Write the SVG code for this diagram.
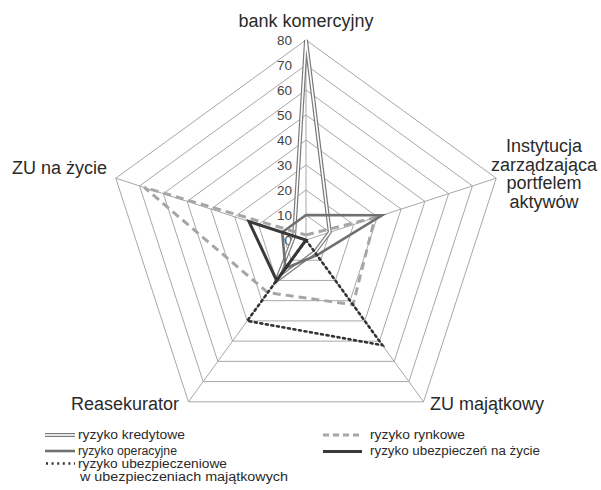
<svg xmlns="http://www.w3.org/2000/svg" width="601" height="490" viewBox="0 0 601 490">
<style>
text{font-family:"Liberation Sans",Arial,sans-serif;fill:#2a2a2a}
.ax{font-size:18px}
.tk{font-size:13.5px;fill:#444;text-anchor:end}
.lg{font-size:12.5px}
.grid{fill:none;stroke:#a8a8a8;stroke-width:1}
.s{fill:none;stroke-linejoin:miter}
.kr1{stroke:#7a7a7a;stroke-width:4}
.kr2{stroke:#fff;stroke-width:1.6}
.op{stroke:#707070;stroke-width:2.6}
.ry{stroke:#a6a6a6;stroke-width:3;stroke-dasharray:8 5}
.zy{stroke:#3a3a3a;stroke-width:3}
.um{stroke:#333;stroke-width:2.6;stroke-dasharray:2 3.6}
</style>
<rect width="601" height="490" fill="#fff"/>
<g id="grid" class="grid">
<polygon points="306,215 329.78,232.27 320.69,260.23 291.31,260.23 282.22,232.27"/>
<polygon points="306,190 353.55,224.55 335.39,280.45 276.61,280.45 258.45,224.55"/>
<polygon points="306,165 377.33,216.82 350.08,300.68 261.92,300.68 234.67,216.82"/>
<polygon points="306,140 401.11,209.10 364.78,320.90 247.22,320.90 210.89,209.10"/>
<polygon points="306,115 424.88,201.37 379.47,341.13 232.53,341.13 187.12,201.37"/>
<polygon points="306,90 448.66,193.65 394.17,361.35 217.83,361.35 163.34,193.65"/>
<polygon points="306,65 472.44,185.92 408.86,381.58 203.14,381.58 139.56,185.92"/>
<polygon points="306,40 496.21,178.20 423.56,401.80 188.44,401.80 115.79,178.20"/>
<path d="M306,240L306,40M306,240L496.21,178.20M306,240L423.56,401.80M306,240L188.44,401.80M306,240L115.79,178.20"/>
</g>
<g id="ticks">
<text class="tk" x="292" y="44.8">80</text>
<text class="tk" x="292" y="69.8">70</text>
<text class="tk" x="292" y="94.8">60</text>
<text class="tk" x="292" y="119.8">50</text>
<text class="tk" x="292" y="144.8">40</text>
<text class="tk" x="292" y="169.8">30</text>
<text class="tk" x="292" y="194.8">20</text>
<text class="tk" x="292" y="219.8">10</text>
<text class="tk" x="292" y="244.8">0</text>
</g>
<g id="axis-labels">
<text class="ax" x="306" y="27" text-anchor="middle">bank komercyjny</text>
<text class="ax" text-anchor="middle"><tspan x="544" y="152">Instytucja</tspan><tspan x="544" y="170.5">zarządzająca</tspan><tspan x="544" y="189">portfelem</tspan><tspan x="544" y="207.5">aktywów</tspan></text>
<text class="ax" x="430" y="410">ZU majątkowy</text>
<text class="ax" x="71" y="410">Reasekurator</text>
<text class="ax" x="12" y="174">ZU na życie</text>
</g>
<g id="series">
<g id="s-kredytowe">
<polygon class="s kr1" points="306,40 329.78,232.27 314.82,252.14 276.61,280.45 294.11,236.14"/>
<polygon class="s kr2" points="306,40 329.78,232.27 314.82,252.14 276.61,280.45 294.11,236.14"/>
</g>
<polygon id="s-rynkowe" class="s ry" points="306,235 374.95,217.60 353.02,304.72 267.79,292.59 144.32,187.47"/>
<polygon id="s-operacyjne" class="s op" points="306,215 382.08,215.28 317.02,255.17 285.43,268.32 282.22,232.27"/>
<polygon id="s-zycie" class="s zy" points="306,240 276.61,280.45 248.94,221.46"/>
<polygon id="s-majatkowe" class="s um" stroke-linecap="round" points="306,240 382.4,345.2 247.22,320.90"/>
</g>
<g id="legend">
<line class="kr1" x1="45" y1="435" x2="75" y2="435"/>
<line class="kr2" x1="45" y1="435" x2="75" y2="435"/>
<text class="lg" x="78" y="439" textLength="107" lengthAdjust="spacingAndGlyphs">ryzyko kredytowe</text>
<line class="op" x1="45" y1="451" x2="75" y2="451"/>
<text class="lg" x="78" y="454.5" textLength="99" lengthAdjust="spacingAndGlyphs">ryzyko operacyjne</text>
<line class="um" x1="46" y1="463.5" x2="75" y2="463.5"/>
<text class="lg" x="78" y="467.5" textLength="149" lengthAdjust="spacingAndGlyphs">ryzyko ubezpieczeniowe</text>
<text class="lg" x="80" y="481" textLength="208" lengthAdjust="spacingAndGlyphs">w ubezpieczeniach majątkowych</text>
<line class="ry" x1="323" y1="435" x2="362" y2="435" style="stroke-dasharray:6 4"/>
<text class="lg" x="370" y="439" textLength="95" lengthAdjust="spacingAndGlyphs">ryzyko rynkowe</text>
<line class="zy" x1="323" y1="451.5" x2="362" y2="451.5"/>
<text class="lg" x="370" y="455" textLength="170" lengthAdjust="spacingAndGlyphs">ryzyko ubezpieczeń na życie</text>
</g>
</svg>
